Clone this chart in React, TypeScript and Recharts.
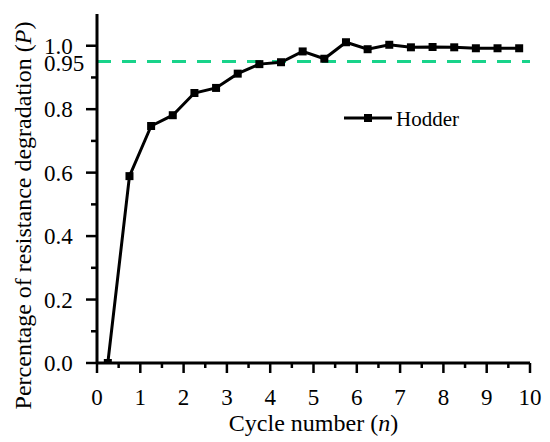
import {
  LineChart,
  Line,
  XAxis,
  YAxis,
  ReferenceLine,
  Legend,
} from 'recharts';

const cycles = [0.25, 0.75, 1.25, 1.75, 2.25, 2.75, 3.25, 3.75, 4.25, 4.75, 5.25, 5.75, 6.25, 6.75, 7.25, 7.75, 8.25, 8.75, 9.25, 9.75];
const hodder = [0, 0.589, 0.747, 0.781, 0.851, 0.867, 0.912, 0.942, 0.948, 0.982, 0.959, 1.011, 0.989, 1.003, 0.995, 0.996, 0.995, 0.992, 0.992, 0.992];
const xTicks = [0, 0.5, 1, 1.5, 2, 2.5, 3, 3.5, 4, 4.5, 5, 5.5, 6, 6.5, 7, 7.5, 8, 8.5, 9, 9.5, 10];
const yTicks = [0, 0.1, 0.2, 0.3, 0.4, 0.5, 0.6, 0.7, 0.8, 0.9, 0.95, 1.0];
const yLabelled = [0, 0.2, 0.4, 0.6, 0.8, 1.0];
const threshold = 0.95;

const textStyle = { fontFamily: "'Liberation Serif', 'DejaVu Serif', serif", fontSize: 23 };
const titleStyle = { ...textStyle, fontSize: 24 };

const data = cycles.map((n, i) => ({ n, p: hodder[i] }));

function XTick({ x, y, payload }: any) {
  const v = payload.value as number;
  const major = Number.isInteger(v);
  return (
    <g>
      <line x1={x} x2={x} y1={y} y2={y + (major ? 10 : 5)} stroke="#000" strokeWidth={2.5} />
      {major && (
        <text x={x} y={y + 42} textAnchor="middle" style={textStyle} fill="#000">
          {v}
        </text>
      )}
    </g>
  );
}

function YTick({ x, y, payload }: any) {
  const v = payload.value as number;
  const isRef = Math.abs(v - threshold) < 1e-6;
  const major = yLabelled.some(t => Math.abs(t - v) < 1e-6);
  return (
    <g>
      {!isRef && (
        <line x1={x - (major ? 11 : 6)} x2={x} y1={y} y2={y} stroke="#000" strokeWidth={2.5} />
      )}
      {(major || isRef) && (
        <text x={x - 53} y={y + (isRef ? 9 : 8)} textAnchor="start" style={textStyle} fill="#000">
          {isRef ? '0.95' : v.toFixed(1)}
        </text>
      )}
    </g>
  );
}

function SquareDot({ cx, cy }: any) {
  return <rect x={cx - 4} y={cy - 4} width={8} height={8} fill="#000" />;
}

function XTitle({ viewBox }: any) {
  const { x, y, width } = viewBox;
  return (
    <text x={x + width / 2} y={y + 68} textAnchor="middle" style={titleStyle} fill="#000">
      Cycle number (<tspan fontStyle="italic">n</tspan>)
    </text>
  );
}

function YTitle({ viewBox }: any) {
  const { y, height } = viewBox;
  const cy = y + height / 2 + 27;
  return (
    <text
      x={31}
      y={cy}
      transform={`rotate(-90, 31, ${cy})`}
      textAnchor="middle"
      style={titleStyle}
      fill="#000"
    >
      Percentage of resistance degradation (<tspan fontStyle="italic">P</tspan>)
    </text>
  );
}

function LegendBox() {
  return (
    <svg width={130} height={30}>
      <line x1={4} x2={52} y1={13} y2={13} stroke="#000" strokeWidth={3} />
      <rect x={24} y={9} width={8} height={8} fill="#000" />
      <text x={56} y={21} style={{ ...textStyle, fontSize: 21 }} fill="#000">
        Hodder
      </text>
    </svg>
  );
}

export default function App() {
  return (
    <div style={{ position: 'absolute', left: 0, top: 0, width: 550, height: 442, background: '#fff' }}>
      <LineChart width={550} height={442} data={data} margin={{ top: 14, right: 20, bottom: 0, left: 0 }}>
        <XAxis
          dataKey="n"
          type="number"
          domain={[0, 10]}
          ticks={xTicks}
          interval={0}
          height={79}
          tickSize={0}
          tickMargin={0}
          tickLine={false}
          axisLine={{ stroke: '#000', strokeWidth: 3 }}
          tick={<XTick />}
          label={<XTitle />}
        />
        <YAxis
          type="number"
          domain={[0, 1.1]}
          ticks={yTicks}
          interval={0}
          width={97}
          tickSize={0}
          tickMargin={0}
          tickLine={false}
          axisLine={{ stroke: '#000', strokeWidth: 3 }}
          tick={<YTick />}
          label={<YTitle />}
          allowDataOverflow
        />
        <ReferenceLine
          y={threshold}
          stroke="#18d38a"
          strokeWidth={3}
          strokeDasharray="14 11"
          segment={[{ x: 0.08, y: threshold }, { x: 10, y: threshold }]}
        />
        <Legend
          layout="horizontal"
          verticalAlign="middle"
          align="center"
          content={<LegendBox />}
          wrapperStyle={{ left: 340, top: 105, width: 130 }}
        />
        <Line
          dataKey="p"
          name="Hodder"
          stroke="#000"
          strokeWidth={3}
          dot={<SquareDot />}
          activeDot={false}
          isAnimationActive={false}
        />
      </LineChart>
    </div>
  );
}
